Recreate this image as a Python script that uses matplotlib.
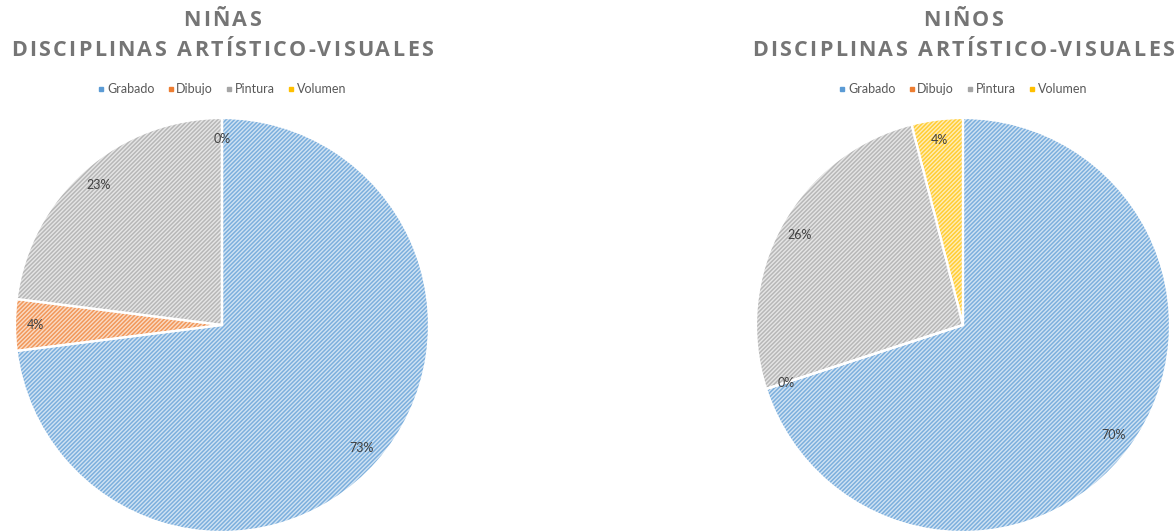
import matplotlib
matplotlib.use("Agg")
import matplotlib.pyplot as plt
from matplotlib.lines import Line2D
from matplotlib.colors import to_rgb

plt.rcParams['font.family'] = ['Lato', 'DejaVu Sans']
plt.rcParams['hatch.linewidth'] = 1.1

# data (percent)
categories = ["Grabado", "Dibujo", "Pintura", "Volumen"]
ninas = [73, 4, 23, 0]
ninos = [70, 0, 26, 4]
titles = [("NIÑAS", "DISCIPLINAS ARTÍSTICO-VISUALES"),
          ("NIÑOS", "DISCIPLINAS ARTÍSTICO-VISUALES")]

colors = ["#5B9BD5", "#ED7D31", "#A5A5A5", "#FFC000"]
W, H = 1174, 531


def lighten(c, amt=0.55):
    r, g, b = to_rgb(c)
    return (r + (1 - r) * amt, g + (1 - g) * amt, b + (1 - b) * amt)


fig = plt.figure(figsize=(W / 100, H / 100), dpi=100)
renderer = fig.canvas.get_renderer()


def spaced_text(cx, cy, s, total_w=None, spacing=None, **kw):
    # draw text char by char with extra letter spacing (pixel coords)
    widths = []
    for ch in s:
        t = fig.text(0, 0, ch if ch != " " else "n", **kw)
        w = t.get_window_extent(renderer).width
        if ch == " ":
            w *= 0.45
        widths.append(w)
        t.remove()
    if spacing is None:
        spacing = (total_w - sum(widths)) / (len(s) - 1)
    full = sum(widths) + spacing * (len(s) - 1)
    x = cx - full / 2
    for ch, w in zip(s, widths):
        if ch != " ":
            fig.text((x + w / 2) / W, 1 - cy / H, ch, ha="center", va="center", **kw)
        x += w + spacing
    return spacing


centers = [222, 963]
R = 207
cy = 325
for i, vals in enumerate([ninas, ninos]):
    cx = centers[i]
    ax = fig.add_axes([(cx - R) / W, (H - cy - R) / H, 2 * R / W, 2 * R / H])
    wedges, _, autotexts = ax.pie(
        vals, startangle=90, counterclock=False,
        colors=[lighten(c, 0.72) for c in colors],
        autopct="%1.0f%%", pctdistance=0.9,
        wedgeprops=dict(linewidth=0, hatch="////////"),
        textprops=dict(fontsize=9, color="#404040"))
    for w, c in zip(wedges, colors):
        w.set_edgecolor(lighten(c, 0.2))
        w.set_linewidth(0)
    ax.pie(vals, startangle=90, counterclock=False, colors=["none"] * 4,
           wedgeprops=dict(fill=False, edgecolor="white", linewidth=1.6))
    ax.set_xlim(-1, 1)
    ax.set_ylim(-1, 1)
    ax.set_aspect("equal")

    tkw = dict(fontsize=15.5, fontweight="bold", color="#757575",
               family=["Open Sans", "DejaVu Sans"])
    sp = spaced_text(cx, 51, titles[i][1], total_w=422, **tkw)
    spaced_text(cx, 20, titles[i][0], spacing=sp, **tkw)

    handles = [Line2D([], [], marker="s", linestyle="none", markersize=3.5,
                      markerfacecolor=c, markeredgecolor=c) for c in colors]
    fig.legend(handles, categories, loc="center", ncol=4, frameon=False,
               bbox_to_anchor=(cx / W, 1 - 89 / H), fontsize=9,
               labelcolor="#595959", handletextpad=0.15, columnspacing=1.0,
               handlelength=0.6)

fig.savefig("out.png", dpi=100)
